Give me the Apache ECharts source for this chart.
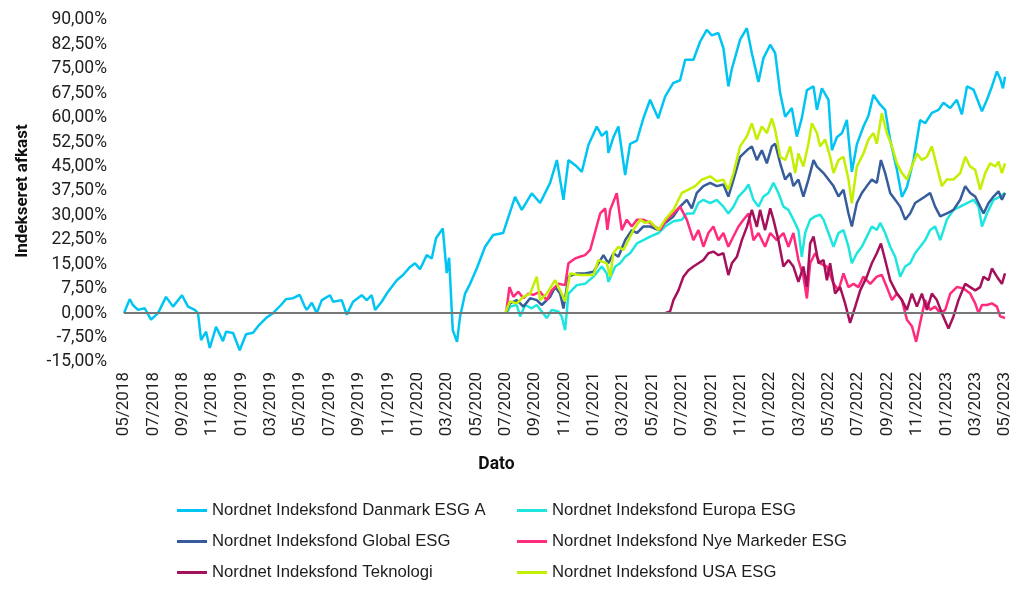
<!DOCTYPE html>
<html>
<head>
<meta charset="utf-8">
<script src="https://cdn.jsdelivr.net/npm/echarts@6/dist/echarts.min.js"></script>
<style>
  html, body { margin: 0; padding: 0; background: #fff; }
  #chart { width: 1024px; height: 594px; }
</style>
</head>
<body>
<div id="chart"></div>
<script>
// x = months since 05/2018, y = indexed return in %
let names = [
  "Nordnet Indeksfond Danmark ESG A",
  "Nordnet Indeksfond Europa ESG",
  "Nordnet Indeksfond Global ESG",
  "Nordnet Indeksfond Nye Markeder ESG",
  "Nordnet Indeksfond Teknologi",
  "Nordnet Indeksfond USA ESG"
];
let colors = ["#00c4f2", "#1fe5df", "#375c9b", "#ff2b7c", "#a5105a", "#c3ef00"];

let tickLabels = [
  "05/2018", "07/2018", "09/2018", "11/2018", "01/2019", "03/2019", "05/2019", "07/2019",
  "09/2019", "11/2019", "01/2020", "03/2020", "05/2020", "07/2020", "09/2020", "11/2020",
  "01/2021", "03/2021", "05/2021", "07/2021", "09/2021", "11/2021", "01/2022", "03/2022",
  "05/2022", "07/2022", "09/2022", "11/2022", "01/2023", "03/2023", "05/2023"
];

let danmark = [[0,0],[0.39,4.3],[0.61,2.5],[0.95,1],[1.41,1.5],[1.84,-2],[2.32,0],[2.86,5],[3.34,2],[3.95,5.5],[4.36,2],[4.82,1],[5.04,0],[5.25,-8.3],[5.59,-5.7],[5.84,-10.7],[6.27,-4.2],[6.74,-8.6],[6.95,-5.7],[7.43,-6.1],[7.88,-11.4],[8.31,-6.5],[8.79,-6],[9.13,-4],[9.67,-1.5],[10.15,0],[10.69,2.5],[11.04,4.3],[11.51,4.6],[11.97,5.6],[12.31,2],[12.45,1],[12.79,3.2],[13.13,0],[13.47,4],[14.03,5.5],[14.24,3.5],[14.83,4],[15.17,-0.5],[15.6,3.5],[16.19,5.5],[16.53,4],[16.87,5.5],[17.1,1],[17.55,3.5],[17.98,6.6],[18.58,10.1],[19.0,11.7],[19.48,14.2],[19.82,15.3],[20.16,13.5],[20.62,17.8],[20.96,16.8],[21.25,23],[21.71,26],[21.98,12.3],[22.14,17],[22.39,-5.2],[22.68,-8.8],[22.89,-1],[23.23,6],[23.57,9],[24.03,13.8],[24.59,20.4],[25.14,24],[25.82,24.6],[26.63,35.7],[27.09,31.7],[27.77,36.8],[28.34,33.8],[29.02,40],[29.48,47],[29.93,34.8],[30.27,47],[30.84,45],[31.18,43.4],[31.63,51.6],[32.2,57.3],[32.54,54.4],[32.88,55.9],[32.99,49.2],[33.33,54],[33.67,57.3],[34.13,42.4],[34.47,52],[34.93,53],[35.37,59.8],[35.83,65.5],[36.38,59.8],[36.85,66.5],[37.4,70.6],[37.87,71.5],[38.22,77.8],[38.78,77.8],[39.24,83.4],[39.69,87],[40.03,85.3],[40.48,86],[40.82,81.4],[41.16,69.6],[41.4,75],[41.96,84],[42.42,87.5],[42.76,79.8],[43.21,71],[43.55,78.3],[44.01,82.4],[44.35,79.8],[44.69,67.5],[45.03,60.3],[45.48,63],[45.82,54.2],[46.16,59.8],[46.51,68.5],[46.96,69.6],[47.19,62.4],[47.53,69],[47.98,65.5],[48.21,50],[48.55,54],[48.89,55.2],[49.23,59.3],[49.57,43.4],[49.91,51.8],[50.36,57.3],[50.7,60.6],[51.04,67],[51.5,64],[51.84,62.4],[52.18,53.2],[52.64,44],[52.98,35.7],[53.32,38.7],[53.77,47],[54.22,59.3],[54.56,58.3],[55.02,61.5],[55.47,62.4],[55.81,64.6],[56.27,63],[56.72,65.5],[57.06,61],[57.41,69.6],[57.86,68.6],[58.43,62],[58.77,65.5],[59.11,69.6],[59.45,74.2],[59.67,72],[59.86,69],[60,72.6]];

let europa = [[26.07,0],[26.29,2],[26.75,2.5],[26.98,-1],[27.32,2.5],[27.77,1.5],[28.11,2.5],[28.45,0.5],[28.79,-1.5],[29.13,1],[29.58,0.5],[29.81,-1],[30.04,-5.2],[30.27,6],[30.84,8.6],[31.4,9],[31.97,11.2],[32.54,14.3],[32.88,12.2],[32.99,9.6],[33.45,14.3],[33.79,15.3],[34.13,17.3],[34.47,18.4],[34.93,21.4],[35.37,22.4],[35.83,23.5],[36.4,24.6],[36.85,26.6],[37.42,28.2],[37.99,28.7],[38.33,30.6],[38.78,30.6],[39.12,33.8],[39.46,34.8],[39.92,33.8],[40.37,34.8],[40.82,32.7],[41.16,30.6],[41.51,32.7],[41.85,35.8],[42.3,37.9],[42.53,39.5],[42.87,34.8],[43.21,32.7],[43.55,35.8],[43.89,36.9],[44.23,40],[44.57,36.9],[44.91,32.7],[45.25,31.7],[45.59,28.7],[45.93,25.5],[46.16,17.3],[46.39,24.6],[46.73,28.7],[47.07,29.7],[47.41,30.2],[47.64,28.7],[47.98,24.6],[48.32,20.4],[48.66,24.6],[49.0,25.5],[49.34,20.4],[49.57,15.3],[49.91,18.4],[50.25,20.4],[50.59,23.5],[50.93,26.6],[51.27,25.5],[51.5,27.7],[51.84,24.6],[52.18,20.4],[52.52,17.3],[52.86,11.2],[53.2,14.3],[53.54,15.3],[53.88,18.4],[54.22,20.4],[54.56,22.4],[54.9,25.5],[55.24,26.6],[55.59,22.4],[56.04,28.7],[56.49,31.7],[56.95,32.7],[57.41,33.8],[57.86,34.8],[58.2,32.7],[58.43,26.6],[58.77,30.6],[59.22,34.8],[59.67,35.8],[60,36.9]];

let globalEsg = [[26.02,0.5],[26.29,3],[26.75,4],[27.2,2],[27.66,4.6],[28.11,4],[28.45,2.5],[29.02,5],[29.36,8],[29.7,6],[29.93,1.4],[30.27,11.2],[30.84,12.2],[31.4,12.2],[31.97,12.7],[32.31,15.3],[32.65,17.8],[32.99,15.3],[33.33,18.4],[33.67,17.3],[34.13,22.4],[34.58,25.5],[34.93,24.6],[35.37,26.6],[35.83,26.6],[36.4,25.5],[36.85,27.7],[37.42,29.7],[37.87,32.7],[38.33,34.8],[38.67,32.2],[39.01,36.9],[39.46,39],[39.92,40],[40.37,39],[40.82,39.5],[41.16,35.8],[41.51,41],[41.96,48],[42.42,50],[42.76,51.2],[43.1,47],[43.44,50],[43.78,46],[44.12,51.2],[44.35,52],[44.69,46],[45.03,41],[45.37,43],[45.59,39],[45.93,41],[46.27,35.8],[46.61,41],[46.96,47],[47.19,45],[47.64,43],[47.98,41],[48.32,39],[48.66,35.8],[49.0,37.9],[49.34,30.6],[49.57,26.6],[49.91,33.8],[50.25,36.9],[50.59,39],[50.93,41],[51.27,40],[51.55,47],[51.84,43],[52.18,36.9],[52.52,34.8],[52.86,32.7],[53.2,28.7],[53.54,30.6],[53.88,33.8],[54.22,34.8],[54.56,35.8],[54.9,36.9],[55.24,32.7],[55.59,29.7],[56.04,30.6],[56.49,31.7],[56.95,34.8],[57.29,39],[57.63,36.9],[57.97,35.8],[58.31,32.7],[58.54,30.6],[58.88,33.8],[59.22,35.8],[59.56,37.4],[59.79,34.8],[60,36.9]];

let nyeMarkeder = [[26.02,0],[26.25,8],[26.52,5],[26.86,6.6],[27.2,4.6],[27.54,6],[27.88,5.6],[28.34,6.6],[28.79,4],[29.13,7],[29.58,9],[30.04,8.6],[30.27,15.3],[30.72,16.8],[31.06,17.3],[31.4,17.8],[31.75,19.4],[32.09,25],[32.43,30.6],[32.77,32.2],[32.92,25.6],[33.11,31.7],[33.56,36.8],[33.9,25.5],[34.24,28.7],[34.58,26.6],[34.93,28.7],[35.37,28.7],[35.83,27.7],[36.51,25.5],[36.97,28.7],[37.42,30.6],[37.87,32.7],[38.33,28.7],[38.78,22.4],[39.12,25.5],[39.46,20.4],[39.8,24.6],[40.14,26.6],[40.48,22.4],[40.82,24.6],[41.16,20.4],[41.51,23.6],[41.85,26.6],[42.19,28.7],[42.53,30.6],[42.87,22.4],[43.21,24.6],[43.66,20.4],[44.01,24.6],[44.46,22.4],[44.91,24.6],[45.25,20.4],[45.59,24.6],[45.93,16.3],[46.27,11.2],[46.51,4.5],[46.73,15.3],[47.07,18.4],[47.41,15.3],[47.87,14.3],[48.32,9.1],[48.66,7],[49.0,12.2],[49.34,8],[49.68,9],[50.02,8],[50.36,11.2],[50.82,9],[51.27,11.2],[51.61,11.7],[51.95,8],[52.3,4],[52.64,6],[52.98,4],[53.32,-2],[53.66,-4],[53.95,-8.8],[54.22,-3],[54.56,4],[54.9,1],[55.24,2],[55.59,0],[55.93,1],[56.27,6],[56.72,8],[57.17,7.6],[57.63,6],[57.97,3],[58.2,0],[58.43,2.5],[58.77,2.5],[59.11,3],[59.45,2],[59.67,-1],[60,-1.5]];

let teknologi = [[36.85,0],[37.19,0.5],[37.42,4],[37.76,7],[38.1,11.2],[38.44,13.2],[38.78,14.3],[39.12,15.3],[39.46,16.3],[39.8,18.4],[40.14,18.9],[40.48,17.8],[40.82,18.4],[41.16,11.7],[41.4,15.3],[41.74,17.3],[42.08,22.4],[42.42,26.5],[42.76,31.7],[43.1,26.5],[43.32,31.7],[43.66,25.5],[44.01,32.2],[44.23,28.7],[44.57,22.4],[44.91,14.3],[45.25,16.3],[45.59,14.3],[45.93,9.6],[46.27,14.3],[46.51,8],[46.73,21.4],[46.96,23.5],[47.3,15.3],[47.64,16.3],[47.87,10.1],[48.09,15.3],[48.43,6],[48.77,8],[49.11,3],[49.45,-3],[49.8,2],[50.14,7],[50.59,11.2],[50.93,15.3],[51.27,18.4],[51.55,21.4],[51.84,16.3],[52.18,10.1],[52.64,6],[52.98,4],[53.32,1],[53.66,6],[54.0,2],[54.34,6],[54.68,1],[55.02,6],[55.36,4],[55.7,0],[56.15,-4.7],[56.49,-1],[56.83,4],[57.29,9],[57.63,8],[57.97,7],[58.31,8],[58.54,11.2],[58.88,10.1],[59.11,13.7],[59.45,11.2],[59.79,9],[60,12.2]];

let usa = [[25.95,0],[26.29,3.6],[26.75,3],[27.2,5],[27.66,6],[28.11,11.2],[28.34,4],[28.79,6],[29.36,10.1],[29.7,7],[30.04,3.6],[30.38,12.2],[31.06,11.7],[31.97,11.7],[32.31,16.3],[32.88,15.3],[33.11,11.2],[33.33,18.4],[33.67,20.4],[34.01,19.4],[34.35,22.4],[34.69,25.5],[35.15,28.7],[35.49,27.7],[35.83,28.2],[36.4,25.5],[36.85,28.7],[37.42,31.7],[37.99,36.9],[38.44,37.9],[38.9,39],[39.35,41],[39.92,42],[40.37,40.5],[40.82,41],[41.16,37.9],[41.51,43],[41.96,51.2],[42.42,54.3],[42.76,58.3],[43.1,53.3],[43.44,57.3],[43.78,55.3],[44.12,59.8],[44.35,56.2],[44.69,48],[45.03,47],[45.37,51.2],[45.71,43],[45.93,49],[46.27,45],[46.61,52],[46.85,58.3],[47.19,55.3],[47.41,51.2],[47.75,53.3],[48.09,48],[48.32,43],[48.66,47],[49.0,48],[49.34,41],[49.57,33.7],[49.91,45],[50.36,49],[50.7,53.3],[51.04,55.3],[51.27,52],[51.61,61.4],[51.95,55.3],[52.3,51.2],[52.64,46],[52.98,43],[53.32,41],[53.66,45],[54.0,49],[54.34,47],[54.68,48],[55.02,51.2],[55.36,45],[55.7,39],[56.04,41],[56.49,41],[56.95,43],[57.29,48],[57.63,45],[57.97,44],[58.31,37.9],[58.65,43],[58.99,46],[59.33,45],[59.56,46.5],[59.79,43],[60,46]];

let seriesData = [danmark, europa, globalEsg, nyeMarkeder, teknologi, usa];

let chart = echarts.init(document.getElementById("chart"));

let legendBase = {
  orient: "vertical",
  top: 502,
  padding: 0,
  itemGap: 14,
  icon: "rect",
  itemWidth: 30,
  itemHeight: 3,
  selectedMode: false,
  textStyle: { fontFamily: "Liberation Sans", fontSize: 16.7, color: "#1e1e1e", lineHeight: 17 }
};

let options = {
  animation: false,
  backgroundColor: "#fff",
  grid: { left: 124, right: 19, top: 20, bottom: 232 },
  legend: [
    Object.assign({}, legendBase, { left: 177, data: [names[0], names[2], names[4]] }),
    Object.assign({}, legendBase, { left: 517, data: [names[1], names[3], names[5]] })
  ],
  xAxis: {
    type: "value",
    min: 0,
    max: 60,
    interval: 2,
    name: "Dato",
    nameLocation: "middle",
    nameGap: 94,
    nameTextStyle: { fontFamily: "Roboto", fontWeight: "bold", fontSize: 17.5, color: "#111", padding: [0, 136, 0, 0] },
    axisLine: { show: false, onZero: false },
    axisTick: { show: false },
    splitLine: { show: false },
    axisLabel: {
      rotate: 90,
      margin: 10,
      fontFamily: "Roboto",
      fontSize: 17,
      color: "#1e1e1e",
      formatter: (v) => tickLabels[Math.round(v / 2)]
    }
  },
  yAxis: {
    type: "value",
    min: -15,
    max: 90,
    interval: 7.5,
    name: "Indekseret afkast",
    nameLocation: "middle",
    nameGap: 93,
    nameRotate: 90,
    nameTextStyle: { fontFamily: "Roboto", fontWeight: "bold", fontSize: 17, color: "#111" },
    axisLine: { show: false },
    axisTick: { show: false },
    splitLine: { show: false },
    axisLabel: {
      margin: 17,
      fontFamily: "Roboto",
      fontSize: 17.5,
      color: "#1e1e1e",
      formatter: (v) => v.toFixed(2).replace(".", ",") + "%"
    }
  },
  series: names.map((n, i) => ({
    name: n,
    type: "line",
    data: seriesData[i],
    showSymbol: false,
    symbol: "none",
    color: colors[i],
    lineStyle: { width: 2.5, color: colors[i] },
    markLine: i === 0 ? {
      silent: true,
      symbol: "none",
      label: { show: false },
      lineStyle: { color: "#777", width: 2, type: "solid" },
      data: [{ yAxis: 0 }]
    } : undefined
  }))
};

chart.setOption(options);
window.addEventListener("resize", () => chart.resize());
</script>
</body>
</html>
